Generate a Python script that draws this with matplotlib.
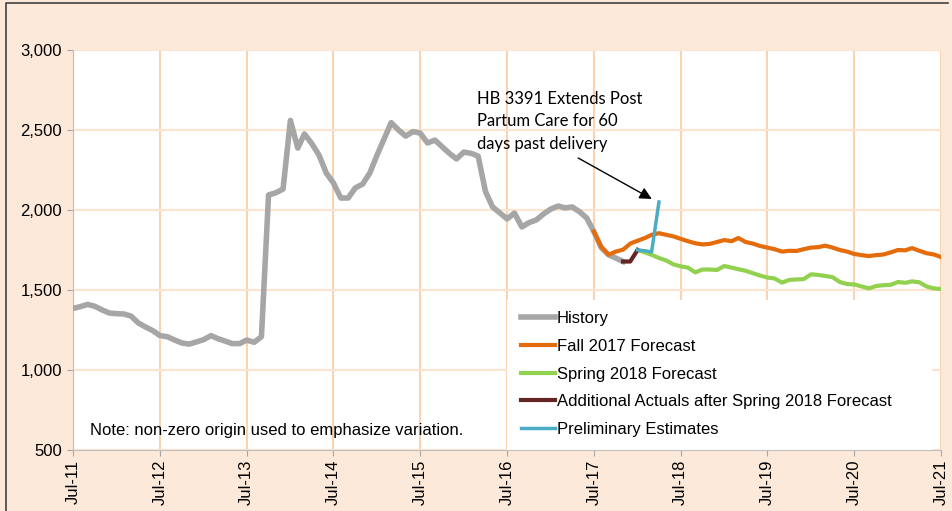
import matplotlib.pyplot as plt
import matplotlib.dates as mdates
from matplotlib.patches import Rectangle
from matplotlib.lines import Line2D
from matplotlib.ticker import FuncFormatter
import pandas as pd

# monthly values
history = [1385, 1396, 1410, 1398, 1375, 1356, 1352, 1350, 1337, 1294, 1269, 1246,
           1215, 1208, 1187, 1169, 1162, 1175, 1190, 1215, 1196, 1181, 1165, 1165,
           1187, 1173, 1208, 2094, 2108, 2131, 2560, 2387, 2475, 2415, 2344, 2231,
           2169, 2075, 2075, 2138, 2162, 2231, 2344, 2450, 2546, 2500, 2462, 2490,
           2481, 2419, 2437, 2396, 2354, 2319, 2362, 2354, 2337, 2115, 2019, 1981,
           1944, 1981, 1894, 1921, 1938, 1975, 2006, 2025, 2013, 2019, 1990, 1950,
           1865, 1765, 1720, 1700, 1678]
fall_2017 = [1865, 1770, 1720, 1740, 1752, 1790, 1808, 1825, 1845, 1855, 1845, 1835,
             1820, 1805, 1792, 1785, 1788, 1800, 1812, 1805, 1825, 1800, 1790, 1775,
             1765, 1755, 1740, 1745, 1744, 1755, 1765, 1768, 1777, 1765, 1750, 1740,
             1725, 1718, 1712, 1718, 1722, 1735, 1750, 1748, 1762, 1745, 1730, 1722,
             1706]
spring_2018 = [1750, 1735, 1720, 1700, 1685, 1660, 1648, 1640, 1610, 1628, 1628, 1625,
               1650, 1640, 1630, 1620, 1605, 1590, 1578, 1572, 1546, 1563, 1566, 1568,
               1598, 1594, 1588, 1580, 1550, 1537, 1535, 1522, 1510, 1525, 1530, 1532,
               1550, 1545, 1554, 1548, 1522, 1510, 1506]
add_actuals = [1678, 1678, 1750]
prelim = [1750, 1745, 1738, 2050]

hist_dates = pd.date_range('2011-07-01', periods=len(history), freq='MS')
fall_dates = pd.date_range('2017-07-01', periods=len(fall_2017), freq='MS')
spring_dates = pd.date_range('2018-01-01', periods=len(spring_2018), freq='MS')
add_dates = pd.date_range('2017-11-01', periods=len(add_actuals), freq='MS')
prelim_dates = pd.date_range('2018-01-01', periods=len(prelim), freq='MS')

tick_dates = pd.date_range('2011-07-01', '2021-07-01', freq='12MS')
tick_labels = ['Jul-11', 'Jul-12', 'Jul-13', 'Jul-14', 'Jul-15', 'Jul-16',
               'Jul-17', 'Jul-18', 'Jul-19', 'Jul-20', 'Jul-21']
y_ticks = [500, 1000, 1500, 2000, 2500, 3000]

bg = '#FDE9D9'
plt.rcParams['font.family'] = ['Liberation Sans', 'DejaVu Sans']

fig = plt.figure(figsize=(9.53, 5.11), dpi=100, facecolor=bg)
ax = fig.add_axes([73 / 953, 1 - 450 / 511, 868 / 953, 400 / 511])
ax.set_facecolor('white')

ax.plot(hist_dates, history, color='#A6A6A6', lw=4.0, label='History', zorder=3)
ax.plot(fall_dates, fall_2017, color='#E46C0A', lw=3.0, label='Fall 2017 Forecast', zorder=3)
ax.plot(spring_dates, spring_2018, color='#92D050', lw=3.0, label='Spring 2018 Forecast', zorder=3)
ax.plot(add_dates, add_actuals, color='#632523', lw=3.0,
        label='Additional Actuals after Spring 2018 Forecast', zorder=4)
ax.plot(prelim_dates, prelim, color='#4BACC6', lw=2.5, label='Preliminary Estimates', zorder=5)

ax.set_xlim(tick_dates[0], tick_dates[-1])
ax.set_ylim(500, 3000)
ax.set_xticks(tick_dates)
ax.set_xticklabels(tick_labels, rotation=90, fontsize=12)
ax.set_yticks(y_ticks)
ax.yaxis.set_major_formatter(FuncFormatter(lambda v, p: f'{int(v):,}'))
ax.tick_params(axis='y', labelsize=12, length=4, pad=4, color='#A6A6A6')
ax.tick_params(axis='x', length=4, pad=3, color='#A6A6A6')

ax.xaxis.grid(True, color='#FBD3B0', lw=1.5, zorder=0)
ax.yaxis.grid(True, color='#FDE4CF', lw=1.5, zorder=0)
ax.set_axisbelow(True)
for side in ['top', 'right']:
    ax.spines[side].set_visible(False)
for side in ['left', 'bottom']:
    ax.spines[side].set_color('#BFBFBF')

# white legend area over the grid
ax.add_patch(Rectangle((0.5, 0.0), 0.49, 0.375, transform=ax.transAxes,
                       facecolor='white', edgecolor='none', zorder=2))
leg = ax.legend(loc='upper left', bbox_to_anchor=(0.516, 0.347), frameon=False,
                fontsize=12, handlelength=2.05, handletextpad=0.12,
                labelspacing=0.76, borderaxespad=0, borderpad=0)
leg.set_zorder(6)

ax.text(0.0195, 0.03, 'Note: non-zero origin used to emphasize variation.',
        transform=ax.transAxes, fontsize=12, va='bottom', ha='left', zorder=6)

ax.annotate('', xy=(mdates.date2num(pd.Timestamp('2018-03-02')), 2069),
            xytext=(mdates.date2num(pd.Timestamp('2017-04-26')), 2325),
            arrowprops=dict(arrowstyle='-|>', color='black', lw=1, mutation_scale=18,
                            shrinkA=0, shrinkB=0), zorder=6)
ax.text(mdates.date2num(pd.Timestamp('2016-02-26')), 2745,
        'HB 3391 Extends Post\nPartum Care for 60\ndays past delivery',
        fontsize=12, family=['Lato', 'DejaVu Sans'], va='top', ha='left',
        linespacing=1.5, zorder=6)

# thin dark frame line along top and left of the figure
fig.lines.append(Line2D([6 / 953, 6 / 953, 948 / 953], [0, 1 - 3 / 511, 1 - 3 / 511],
                        transform=fig.transFigure, color='#404040', lw=1.2))

fig.savefig('out.png', dpi=100, facecolor=bg)
